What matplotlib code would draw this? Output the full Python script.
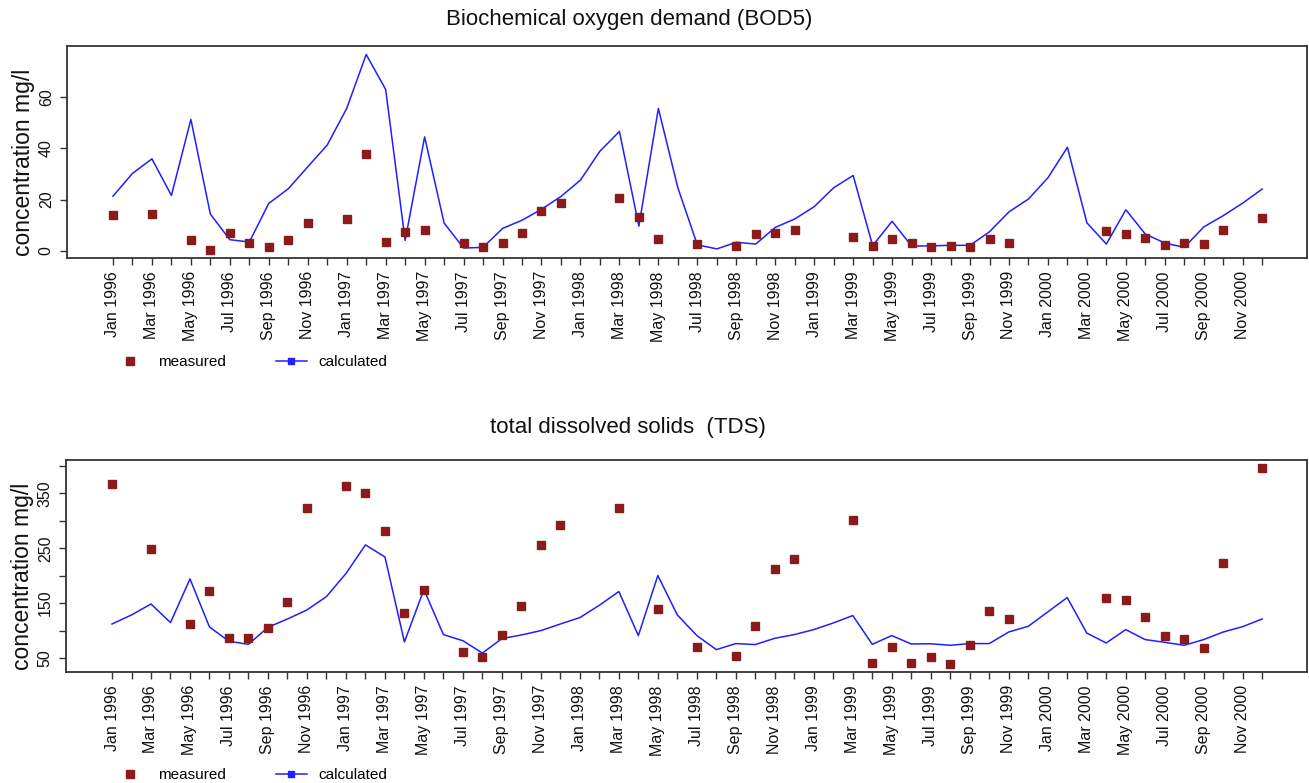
import numpy as np
import matplotlib
matplotlib.use("Agg")
import matplotlib.pyplot as plt
from matplotlib.lines import Line2D

nan = np.nan
month_names = ["Jan", "Feb", "Mar", "Apr", "May", "Jun",
               "Jul", "Aug", "Sep", "Oct", "Nov", "Dec"]
years = [1996, 1997, 1998, 1999, 2000]
months = [f"{m} {y}" for y in years for m in month_names]

bod_calc = [21.3, 30.2, 35.9, 21.6, 51.3, 14.3, 4.3, 3.4, 18.5, 24.2, 32.8, 41.3,
            55.6, 76.7, 63.0, 4.0, 44.5, 10.8, 1.05, 1.3, 8.7, 11.9, 16.2, 21.2,
            27.6, 38.9, 46.6, 9.6, 55.6, 24.6, 2.3, 0.7, 3.3, 2.6, 9.1, 12.4,
            17.2, 24.6, 29.4, 2.0, 11.5, 1.8, 1.9, 2.1, 2.1, 7.4, 15.2, 20.2,
            28.5, 40.4, 10.9, 2.6, 16.0, 6.5, 3.0, 1.3, 9.3, 13.7, 18.6, 24.1]

bod_meas = [13.9, nan, 14.3, nan, 4.0, 0.3, 6.8, 2.9, 1.6, 4.3, 10.7, nan,
            12.4, 37.6, 3.5, 7.3, 8.1, nan, 3.1, 1.6, 2.9, 6.8, 15.5, 18.6,
            nan, nan, 20.7, 13.3, 4.7, nan, 2.6, nan, 1.8, 6.5, 6.9, 8.0,
            nan, nan, 5.3, 1.8, 4.7, 2.9, 1.4, 1.8, 1.3, 4.7, 3.0, nan,
            nan, nan, nan, 7.8, 6.6, 5.1, 2.3, 2.9, 2.7, 8.2, nan, 12.6]

tds_calc = [112, 128.5, 148.5, 114.6, 194.2, 106.6, 80.5, 75.0, 106, 121.2, 137.6, 162,
            204, 256.2, 234.3, 79.2, 174.8, 92.7, 81.5, 59, 85.4, 92, 100, 112,
            123.7, 146.2, 171.2, 90.9, 200.4, 128.5, 90.9, 65.3, 76.3, 74.5, 86, 92.7,
            101.8, 113.9, 127.4, 75, 90.9, 75.6, 76, 73.2, 76.3, 76.3, 97.4, 107.8,
            134, 160.2, 95.6, 77.4, 101.8, 83.6, 78.6, 73.2, 83.6, 97.4, 107.2, 121.2]

tds_meas = [366.4, nan, 249.6, nan, 111.5, 171.7, 86.5, 86.5, 105.4, 151.6, 323.7, nan,
            362.8, 350, 280.7, 132.8, 173.5, nan, 61.7, 51.8, 92.7, 145.6, 256.2, 293.4,
            nan, nan, 322.6, nan, 138.9, nan, 70, nan, 54.4, 108.4, 211.9, 231.4,
            nan, nan, 301.8, 40.9, 70.8, 40.9, 51.8, 39, 73.7, 135.8, 121.9, nan,
            nan, nan, nan, 160.2, 156.6, 124.8, 90.1, 84.7, 68.2, 224.1, nan, 396.2]

plt.rcParams["font.family"] = ["Liberation Sans", "DejaVu Sans"]

MEAS_C = "#8B1A1A"
CALC_C = "#1F1FFF"
FRAME_C = "#333333"

W, H = 1309, 783
fig = plt.figure(figsize=(W / 100, H / 100), dpi=100)


def px_axes(l, t, r, b):
    return fig.add_axes([l / W, 1 - b / H, (r - l) / W, (b - t) / H])


x = np.arange(len(months))


def style_axes(ax, calc, meas, ylim, yticks, ylabels, ylab_y):
    ax.plot(x, calc, color=CALC_C, lw=1.1, zorder=2)
    ax.plot(x, meas, ls="none", marker="s", ms=5.5, color=MEAS_C,
            mec=MEAS_C, zorder=3)
    ax.set_xlim(-2.36, 61.3)
    ax.set_ylim(*ylim)
    ax.set_xticks(x)
    ax.set_xticklabels([m if i % 2 == 0 else "" for i, m in enumerate(months)],
                       rotation=90, fontsize=11.5, ha="center", va="top")
    ax.set_yticks(yticks)
    ax.set_yticklabels(ylabels, rotation=90, va="center", fontsize=11.5)
    ax.tick_params(axis="both", length=5, width=1.0, color=FRAME_C, pad=4.5,
                   direction="out", labelcolor="#111111")
    for s in ax.spines.values():
        s.set_color(FRAME_C)
        s.set_linewidth(1.3)
    ax.set_ylabel("concentration mg/l", fontsize=16.5, color="#111111")
    ax.yaxis.set_label_coords(-0.026, ylab_y)


ax1 = px_axes(67, 46, 1307, 258)
style_axes(ax1, bod_calc, bod_meas, (-2.85, 80), [0, 20, 40, 60],
           ["0", "20", "40", "60"], 0.453)

ax2 = px_axes(66, 460, 1307, 672)
style_axes(ax2, tds_calc, tds_meas, (24.5, 411),
           [50, 100, 150, 200, 250, 300, 350, 400],
           ["50", "", "150", "", "250", "", "350", ""], 0.453)

fig.text(629 / W, 1 - 20 / H, "Biochemical oxygen demand (BOD5)",
         fontsize=16, ha="center", va="center", color="#111111")
fig.text(628 / W, 1 - 428 / H, "total dissolved solids  (TDS)",
         fontsize=16, ha="center", va="center", color="#111111")

handles = [
    Line2D([], [], ls="none", marker="s", ms=5.5, color=MEAS_C, mec=MEAS_C),
    Line2D([], [], color=CALC_C, lw=1.1, marker="s", ms=5, mec=CALC_C),
]
labels = ["measured", "calculated"]
for ly in (362, 775):
    fig.legend(handles, labels, loc="center left",
               bbox_to_anchor=(115 / W, 1 - ly / H), ncol=2, frameon=False,
               fontsize=11, handlelength=2.0, handletextpad=0.8,
               columnspacing=3.3, borderpad=0, borderaxespad=0)

fig.savefig("out.png", dpi=100, facecolor="white")
